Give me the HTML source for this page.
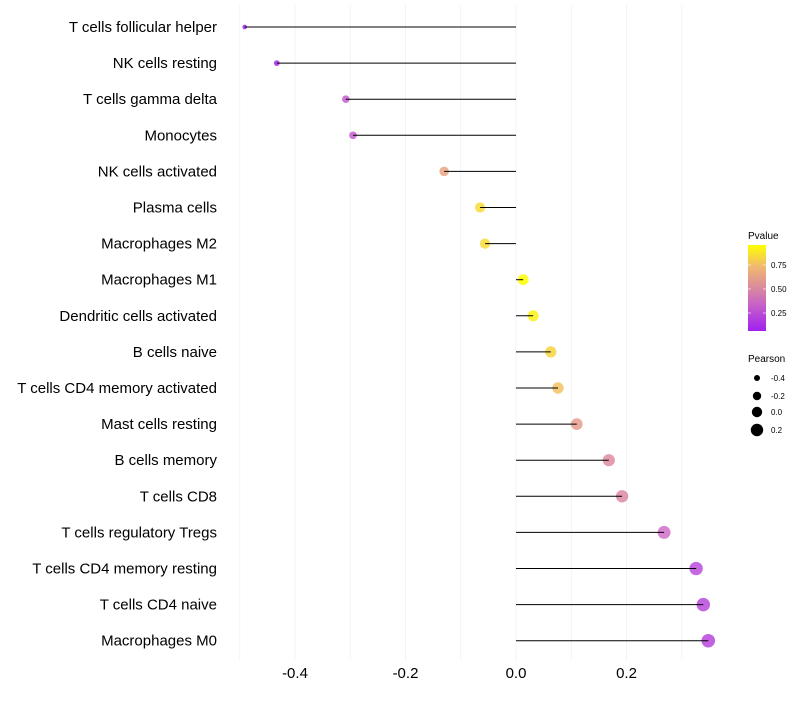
<!DOCTYPE html>
<html><head><meta charset="utf-8"><style>
body{margin:0;background:#fff;font-family:"Liberation Sans",sans-serif;}
</style></head><body>
<svg id="chart" width="800" height="700" xmlns="http://www.w3.org/2000/svg" font-family="Liberation Sans, sans-serif">
<defs><linearGradient id="pg" x1="0" y1="1" x2="0" y2="0">
<stop offset="0" stop-color="#a020f0"/><stop offset="0.3" stop-color="#c660c8"/><stop offset="0.5" stop-color="#d98a9e"/><stop offset="0.75" stop-color="#f0b870"/><stop offset="1" stop-color="#ffff00"/></linearGradient></defs>
<g id="grid"></g><g id="marks"></g><g id="labels"></g>
<g>
<text x="748" y="239" font-size="10">Pvalue</text>
<rect x="748" y="245" width="18" height="86" fill="url(#pg)"/>
<line x1="748" x2="751" y1="265" y2="265" stroke="#fff" opacity="0.6"/><line x1="763" x2="766" y1="265" y2="265" stroke="#fff" opacity="0.6"/>
<line x1="748" x2="751" y1="289" y2="289" stroke="#fff" opacity="0.6"/><line x1="763" x2="766" y1="289" y2="289" stroke="#fff" opacity="0.6"/>
<line x1="748" x2="751" y1="313" y2="313" stroke="#fff" opacity="0.6"/><line x1="763" x2="766" y1="313" y2="313" stroke="#fff" opacity="0.6"/>
<text x="771" y="268" font-size="8">0.75</text><text x="771" y="292" font-size="8">0.50</text><text x="771" y="316" font-size="8">0.25</text>
</g>
<g>
<text x="748" y="362" font-size="10">Pearson</text>
<circle cx="757" cy="378" r="3"/><text x="771" y="381" font-size="8">-0.4</text>
<circle cx="757" cy="396" r="4.2"/><text x="771" y="399" font-size="8">-0.2</text>
<circle cx="757" cy="412" r="5.2"/><text x="771" y="415" font-size="8">0.0</text>
<circle cx="757" cy="430" r="6.2"/><text x="771" y="433" font-size="8">0.2</text>
</g>
</svg>
<script>
const categories=["T cells follicular helper","NK cells resting","T cells gamma delta","Monocytes","NK cells activated","Plasma cells","Macrophages M2","Macrophages M1","Dendritic cells activated","B cells naive","T cells CD4 memory activated","Mast cells resting","B cells memory","T cells CD8","T cells regulatory  Tregs","T cells CD4 memory resting","T cells CD4 naive","Macrophages M0"];
const pearson=[-0.491,-0.433,-0.308,-0.295,-0.130,-0.065,-0.056,0.013,0.031,0.063,0.076,0.110,0.168,0.192,0.268,0.326,0.339,0.348];
const pvalue=[0.08,0.10,0.28,0.28,0.64,0.86,0.86,0.97,0.93,0.84,0.78,0.58,0.48,0.46,0.34,0.22,0.21,0.20];
const xTicks=[-0.4,-0.2,0.0,0.2];
const xMinor=[-0.5,-0.3,-0.1,0.1,0.3];
const NS="http://www.w3.org/2000/svg";
const X=v=>516+v*552.5;
const Y=i=>27+i*36.1;
const R=v=>Math.sqrt(5+48*(v+0.5));
const stops=[[0.07,[160,32,240]],[0.34,[208,112,200]],[0.5,[224,144,154]],[0.75,[240,184,112]],[0.97,[255,255,0]]];
function col(p){if(p<=stops[0][0])return `rgb(${stops[0][1]})`;for(let i=1;i<stops.length;i++){if(p<=stops[i][0]){const a=stops[i-1],b=stops[i],t=(p-a[0])/(b[0]-a[0]);return `rgb(${a[1].map((c,k)=>Math.round(c+(b[1][k]-c)*t)).join(',')})`;}}return 'rgb(255,255,0)';}
function mk(t,a,p){const e=document.createElementNS(NS,t);for(const k in a)e.setAttribute(k,a[k]);p.appendChild(e);return e;}
const g=document.getElementById('grid'),m=document.getElementById('marks'),l=document.getElementById('labels');
xMinor.forEach(v=>{const e=mk('line',{x1:X(v),x2:X(v),y1:5,y2:660,stroke:'#f0f0f0','stroke-width':0.8},g);

});
xTicks.forEach(v=>{const e=mk('line',{x1:X(v),x2:X(v),y1:5,y2:660,stroke:'#f0f0f0','stroke-width':0.8},g);


const t=mk('text',{x:X(v),y:678,'font-size':15,'text-anchor':'middle',fill:'#000'},l);t.textContent=v.toFixed(1);

});
categories.forEach((c,i)=>{const t=mk('text',{x:217,y:Y(i)+5,'font-size':15,'text-anchor':'end',fill:'#000'},l);t.textContent=c;


const d=mk('circle',{cx:X(pearson[i]),cy:Y(i),r:R(pearson[i]),fill:col(pvalue[i]),'fill-opacity':0.85},m);


const s=mk('line',{x1:X(0),x2:X(pearson[i]),y1:Y(i),y2:Y(i),stroke:'#000','stroke-width':1},m);

});
</script>
</body></html>
